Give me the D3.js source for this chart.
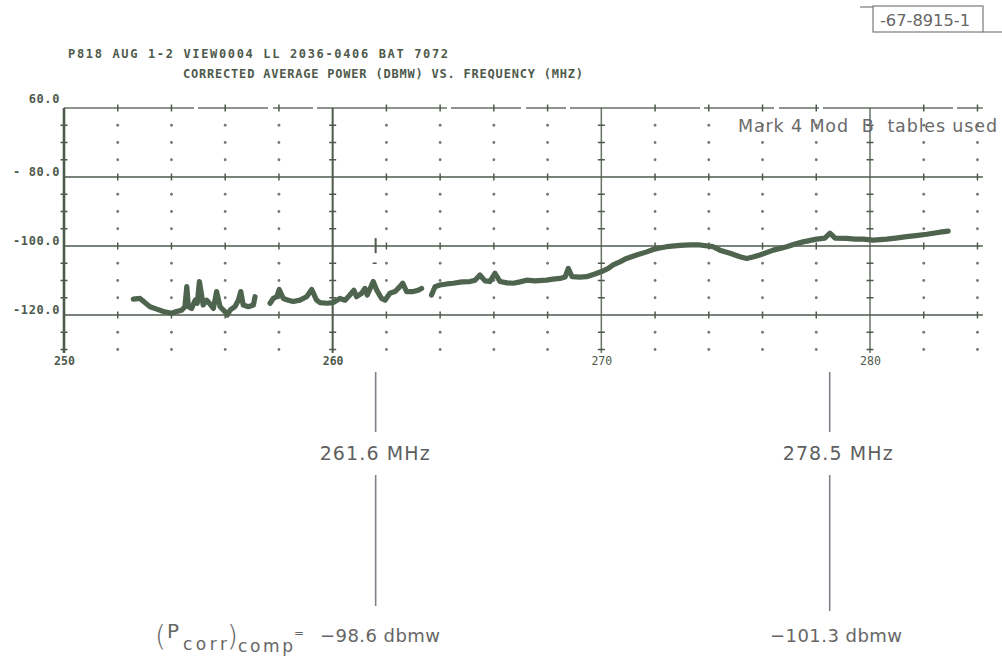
<!DOCTYPE html>
<html>
<head>
<meta charset="utf-8">
<script src="https://cdn.jsdelivr.net/npm/d3@7"></script>
<style>
  body { margin: 0; background: #fff; }
  svg { display: block; }
</style>
</head>
<body>
<svg id="chart" width="1002" height="658"></svg>
<script>
// ---- data ----
const headerLines = [
  "P818  AUG 1-2 VIEW0004  LL  2036-0406  BAT 7072",
  "CORRECTED AVERAGE POWER (DBMW) VS. FREQUENCY (MHZ)"
];
const sheetId = "-67-8915-1";
const tableNote = "Mark 4 Mod  B  tables used";

const xTicks = [250, 260, 270, 280];
const xTickLabels = ["250", "260", "270", "280"];
const yTicks = [-60, -80, -100, -120];
const yTickLabels = ["60.0", "- 80.0", "-100.0", "-120.0"];

// measured trace, frequency (MHz) vs corrected power (dBmW), in three recorded pieces
const traceA = [
  [252.58,-115.4],[252.83,-115.2],[253.01,-116.4],[253.20,-117.6],[253.45,-118.3],
  [253.70,-119.0],[254.01,-119.5],[254.19,-119.0],[254.38,-118.6],[254.50,-117.6],
  [254.57,-111.8],[254.63,-117.6],[254.75,-118.1],[254.88,-115.7],[254.96,-116.6],
  [255.04,-110.3],[255.18,-117.1],[255.31,-115.7],[255.41,-116.6],[255.56,-118.1],
  [255.68,-113.2],[255.81,-117.6],[255.99,-119.0],[256.08,-120.0],[256.18,-118.6],
  [256.36,-117.6],[256.49,-115.7],[256.58,-113.2],[256.67,-117.1],[256.86,-117.6],
  [257.05,-117.1],[257.11,-114.7]
];
const traceB = [
  [257.67,-116.6],[257.79,-115.2],[257.92,-114.7],[258.01,-112.6],[258.16,-115.2],
  [258.35,-115.7],[258.53,-116.1],[258.78,-115.7],[259.03,-114.7],[259.22,-112.6],
  [259.40,-115.7],[259.53,-116.4],[259.78,-116.6],[260.02,-116.4],[260.27,-115.2],
  [260.46,-115.7],[260.64,-114.2],[260.79,-112.8],[260.89,-114.7],[261.08,-113.7],
  [261.20,-112.3],[261.29,-114.2],[261.51,-110.3],[261.64,-112.8],[261.82,-115.2],
  [261.95,-115.7],[262.13,-113.7],[262.32,-113.2],[262.50,-111.8],[262.61,-110.8],
  [262.75,-113.2],[263.00,-113.2],[263.19,-112.8],[263.31,-112.3]
];
const traceC = [
  [263.68,-114.2],[263.81,-111.8],[263.99,-111.3],[264.25,-111.0],[264.49,-110.8],
  [264.81,-110.4],[265.11,-110.3],[265.30,-109.9],[265.48,-108.4],[265.67,-110.1],
  [265.85,-110.3],[266.04,-107.9],[266.23,-110.3],[266.49,-110.7],[266.72,-110.8],
  [266.97,-110.4],[267.22,-109.9],[267.53,-110.1],[267.96,-109.9],[268.20,-109.6],
  [268.46,-109.4],[268.65,-109.0],[268.77,-106.5],[268.91,-108.9],[269.20,-109.0],
  [269.45,-108.9],[269.76,-108.1],[270.01,-107.4],[270.26,-106.5],[270.44,-105.5],
  [270.69,-104.6],[270.94,-103.6],[271.31,-102.6],[271.69,-101.7],[271.93,-101.0],
  [272.18,-100.6],[272.43,-100.2],[272.93,-99.8],[273.30,-99.7],[273.67,-99.7],
  [274.16,-100.2],[274.41,-101.2],[274.79,-102.1],[275.16,-103.1],[275.41,-103.6],
  [275.64,-103.2],[275.90,-102.6],[276.40,-101.2],[276.90,-100.2],[277.21,-99.4],
  [277.51,-98.8],[278.01,-98.0],[278.32,-97.7],[278.51,-96.3],[278.70,-97.7],
  [279.13,-97.8],[279.44,-98.0],[279.75,-98.0],[280.12,-98.3],[280.62,-98.0],
  [280.96,-97.7],[281.36,-97.3],[281.71,-97.0],[282.11,-96.6],[282.60,-96.0],
  [282.91,-95.7]
];

// computed reference points
const markerFreqs = [261.6, 278.5];
const markerPowers = [-98.6, -101.3];

// ---- layout ----
const svg = d3.select("#chart");
const ink = "#4e5a4c";
const grey = "#6a6a6a";
const monoFont = "'DejaVu Sans Mono', 'Liberation Mono', monospace";
const textFont = "'DejaVu Sans', 'Noto Sans', sans-serif";

const x = d3.scaleLinear().domain([250, 280]).range([64, 870]);
const y = d3.scaleLinear().domain([-60, -120]).range([108, 315]);
const xMax = 284.2, yMin = -131;

// header
svg.selectAll("text.header").data(headerLines).join("text")
  .attr("class", "header")
  .attr("x", (d, i) => i === 0 ? 68 : 183)
  .attr("y", (d, i) => i === 0 ? 58 : 78)
  .attr("textLength", (d, i) => i === 0 ? 380 : 400)
  .attr("lengthAdjust", "spacing")
  .attr("font-family", monoFont).attr("font-weight", "bold").attr("font-size", 12)
  .attr("fill", ink)
  .text(d => d);

// sheet number box
const box = svg.append("g");
box.append("rect").attr("x", 873).attr("y", 6).attr("width", 110).attr("height", 26)
  .attr("fill", "none").attr("stroke", "#7a7a7a").attr("stroke-width", 1.2);
box.append("line").attr("x1", 860).attr("x2", 873).attr("y1", 7).attr("y2", 7)
  .attr("stroke", "#7a7a7a").attr("stroke-width", 1.2);
box.append("line").attr("x1", 983).attr("x2", 1002).attr("y1", 32).attr("y2", 32)
  .attr("stroke", "#7a7a7a").attr("stroke-width", 1.2);
box.append("text").attr("x", 880).attr("y", 26)
  .attr("textLength", 90).attr("lengthAdjust", "spacingAndGlyphs")
  .attr("font-family", "'Liberation Sans Narrow', 'DejaVu Sans Condensed', sans-serif")
  .attr("font-size", 15).attr("fill", "#666").text(sheetId);

// grid: dots at 2 MHz x 5 dB, short ticks where they fall on solid rules
const gx = d3.range(250, xMax, 2);
const gy = d3.range(-60, yMin, -5);
const grid = svg.append("g");
gx.forEach(fx => gy.forEach(py => {
  const onV = xTicks.includes(fx), onH = yTicks.includes(py);
  if (onV && onH) return;
  if (onV) {
    grid.append("line").attr("x1", x(fx) - 3.5).attr("x2", x(fx) + 3.5)
      .attr("y1", y(py)).attr("y2", y(py)).attr("stroke", ink).attr("stroke-width", 1.5);
  } else if (onH) {
    grid.append("line").attr("x1", x(fx)).attr("x2", x(fx))
      .attr("y1", y(py) - 3.5).attr("y2", y(py) + 3.5).attr("stroke", ink).attr("stroke-width", 1.5);
  } else {
    grid.append("circle").attr("cx", x(fx)).attr("cy", y(py)).attr("r", 1.4).attr("fill", "#737a71");
  }
}));

// solid horizontal rules
svg.append("g").selectAll("line").data(yTicks).join("line")
  .attr("x1", x(250)).attr("x2", x(xMax))
  .attr("y1", d => y(d)).attr("y2", d => y(d))
  .attr("stroke", ink)
  .attr("stroke-width", 1.6)
  .attr("stroke-dasharray", d => d === -60 ? "130 4 70 5 40 4" : null)
  .attr("opacity", d => d === -60 ? 0.85 : 1);

// solid vertical rules
svg.append("g").selectAll("line").data(xTicks).join("line")
  .attr("x1", d => x(d)).attr("x2", d => x(d))
  .attr("y1", y(-60)).attr("y2", y(yMin))
  .attr("stroke", ink)
  .attr("stroke-width", (d, i) => i === 0 ? 2.6 : (i === 1 ? 2 : 1.5))
  .attr("opacity", (d, i) => i >= 2 ? 0.85 : 1);

// axes labels
const xAxis = d3.axisBottom(x).tickValues(xTicks)
  .tickFormat((d, i) => xTickLabels[i]).tickSize(0).tickPadding(7);
const gX = svg.append("g").attr("transform", `translate(0,${y(-130)})`).call(xAxis);
gX.select(".domain").remove();
gX.selectAll("text")
  .attr("font-family", monoFont).attr("font-size", 11.5)
  .attr("font-weight", (d, i) => i < 2 ? "bold" : "normal")
  .attr("fill", ink);

const yAxis = d3.axisLeft(y).tickValues(yTicks)
  .tickFormat((d, i) => yTickLabels[i]).tickSize(0).tickPadding(0);
const gY = svg.append("g").attr("transform", "translate(60,0)").call(yAxis);
gY.select(".domain").remove();
gY.selectAll("text")
  .attr("font-family", monoFont).attr("font-size", 12).attr("font-weight", "bold")
  .attr("letter-spacing", 0.6)
  .attr("dy", (d, i) => i === 0 ? "-0.45em" : "-0.1em")
  .attr("fill", ink);

// power trace
const line = d3.line().x(d => x(d[0])).y(d => y(d[1]));
svg.append("g").selectAll("path").data([traceA, traceB, traceC]).join("path")
  .attr("d", line)
  .attr("fill", "none")
  .attr("stroke", "#4f644e")
  .attr("stroke-width", 5.2)
  .attr("stroke-linejoin", "round")
  .attr("stroke-linecap", "round");

// marker at the first reference frequency
svg.append("line")
  .attr("x1", x(markerFreqs[0])).attr("x2", x(markerFreqs[0]))
  .attr("y1", y(markerPowers[0]) - 3).attr("y2", y(markerPowers[0]) + 12)
  .attr("stroke", ink).attr("stroke-width", 2);
svg.append("line")
  .attr("x1", x(markerFreqs[0]) - 3).attr("x2", x(markerFreqs[0]) + 1)
  .attr("y1", y(-105)).attr("y2", y(-105))
  .attr("stroke", ink).attr("stroke-width", 1.5);

// note
svg.append("text").attr("x", 738).attr("y", 132)
  .attr("textLength", 259).attr("lengthAdjust", "spacing")
  .attr("font-family", textFont).attr("font-size", 17.5).attr("fill", grey)
  .attr("xml:space", "preserve")
  .style("white-space", "pre")
  .text(tableNote);

// annotation leaders and labels
const fmt = d3.format(".1f");
const ann = svg.append("g");
markerFreqs.forEach((f, i) => {
  const xx = x(f);
  ann.append("line").attr("x1", xx).attr("x2", xx).attr("y1", 372).attr("y2", 432)
    .attr("stroke", "#80808a").attr("stroke-width", 1.6);
  ann.append("line").attr("x1", xx).attr("x2", xx).attr("y1", 475).attr("y2", 606 + i * 5)
    .attr("stroke", "#80808a").attr("stroke-width", 1.6);
  ann.append("text").attr("x", i === 0 ? xx - 56 : xx - 47).attr("y", 460)
    .attr("textLength", 110).attr("lengthAdjust", "spacing")
    .attr("font-family", textFont).attr("font-size", 19).attr("fill", "#5f5f5f")
    .text(fmt(f) + " MHz");
});

// (P_corr)_comp = value
const eq = ann.append("text").attr("font-family", textFont).attr("fill", "#666");
eq.append("tspan").attr("x", 155).attr("y", 646).attr("font-size", 28).attr("font-weight", 300).text("(");
eq.append("tspan").attr("x", 167).attr("y", 638).attr("font-size", 20).text("P");
eq.append("tspan").attr("x", 183).attr("y", 650).attr("font-size", 17)
  .attr("textLength", 44).attr("lengthAdjust", "spacing").text("corr");
eq.append("tspan").attr("x", 227).attr("y", 646).attr("font-size", 28).attr("font-weight", 300).text(")");
eq.append("tspan").attr("x", 238).attr("y", 652).attr("font-size", 17)
  .attr("textLength", 55).attr("lengthAdjust", "spacing").text("comp");
eq.append("tspan").attr("x", 294).attr("y", 637).attr("font-size", 12).text("=");

markerPowers.forEach((p, i) => {
  ann.append("text")
    .attr("x", i === 0 ? 320 : 770).attr("y", 642)
    .attr("textLength", i === 0 ? 120 : 132).attr("lengthAdjust", "spacing")
    .attr("font-family", textFont).attr("font-size", 18).attr("fill", "#666")
    .text(fmt(p) + " dbmw");
});
</script>
</body>
</html>
